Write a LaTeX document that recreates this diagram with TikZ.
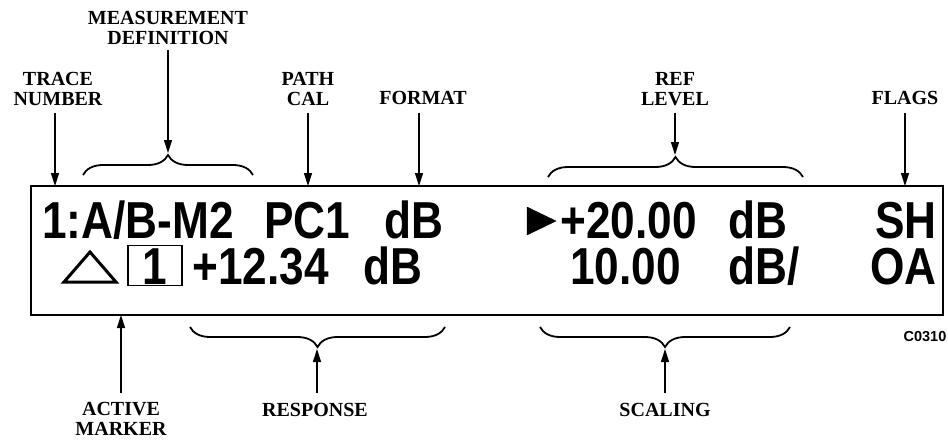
\documentclass[tikz,border=0pt]{standalone}
\usepackage{fontspec}
\setmainfont{Liberation Serif}
\newfontfamily\dispfont[FakeStretch=0.85]{Liberation Sans}
\newfontfamily\idfont{Liberation Sans}
\usetikzlibrary{arrows.meta,decorations.pathreplacing}
\tikzset{
  lbl/.style={font=\bfseries\fontsize{20}{20}\selectfont, align=center, inner sep=1pt},
  disp/.style={font=\dispfont\bfseries\fontsize{52}{52}\selectfont, inner sep=0pt, text height=37pt, text depth=0pt},
  arr/.style={line width=1.4pt, -{Triangle[length=13pt,width=8pt]}},
  brc/.style={line width=1.8pt, decorate, decoration={brace, amplitude=20pt, aspect=0.5}},
}
\begin{document}
\begin{tikzpicture}[x=1pt,y=-1pt]
\useasboundingbox (0,0) rectangle (948,440);
% display frame
\node[draw, line width=1.6pt, minimum width=912pt, minimum height=129pt, inner sep=0pt] (frame) at (487,250.5) {};
% row 1
\node[disp, anchor=base west] (tn) at (42,238) {1:A/B-M2};
\node[disp, anchor=base west] (pc) at (264,238) {PC1};
\node[disp, anchor=base west] (fm) at (384,238) {dB};
\draw[fill=black] (527,207) -- (556,221) -- (527,235) -- cycle;
\node[disp, anchor=base west] (rl) at (560,238) {+20.00};
\node[disp, anchor=base west] (rld) at (728,238) {dB};
\node[disp, anchor=base east] (sh) at (937,238) {SH};
% row 2
\draw[line width=3pt, line join=miter] (64,282) -- (116,282) -- (90,252) -- cycle;
\node[draw, line width=1.2pt, minimum width=54pt, minimum height=40pt, inner sep=0pt] (am) at (155,265.5) {};
\node[disp, anchor=base] (amt) at (155,284) {1};
\node[disp, anchor=base west] (rs) at (192,284) {+12.34};
\node[disp, anchor=base west] (rsd) at (363,284) {dB};
\node[disp, anchor=base west] (sc) at (570,284) {10.00};
\node[disp, anchor=base west] (scd) at (728,284) {dB/};
\node[disp, anchor=base east] (oa) at (937,284) {OA};
% figure id
\node[font=\idfont\bfseries\fontsize{14.5}{14.5}\selectfont, inner sep=0pt] (id) at (925,337) {C0310};
% labels
\node[lbl] (lmd) at (168,28) {MEASUREMENT\\DEFINITION};
\node[lbl] (ltn) at (58,89) {TRACE\\NUMBER};
\node[lbl] (lpc) at (308,89) {PATH\\CAL};
\node[lbl] (lfm) at (423,98) {FORMAT};
\node[lbl] (lrl) at (675,89) {REF\\LEVEL};
\node[lbl] (lfl) at (905,98) {FLAGS};
\node[lbl] (lam) at (121,419) {ACTIVE\\MARKER};
\node[lbl] (lrs) at (315,410) {RESPONSE};
\node[lbl] (lsc) at (665,410) {SCALING};
% connector ends
\coordinate (ctn) at (55,186);
\coordinate (cpc) at (308,186);
\coordinate (cfm) at (419,186);
\coordinate (cfl) at (905,186);
\coordinate (cam) at (121,315);
% braces
\draw[brc] (83,175) -- (253,175);
\coordinate (bmd) at (168,153);
\draw[brc] (548,177) -- (803,177);
\coordinate (brl) at (675,155);
\draw[brc] (445,327) -- (190,327);
\coordinate (brs) at (317,349);
\draw[brc] (790,327) -- (540,327);
\coordinate (bsc) at (665,349);
% arrows
\draw[arr] (55,113) -- (ctn);
\draw[arr] (308,113) -- (cpc);
\draw[arr] (419,113) -- (cfm);
\draw[arr] (905,113) -- (cfl);
\draw[arr] (168,50) -- (bmd);
\draw[arr] (675,113) -- (brl);
\draw[arr] (121,393) -- (cam);
\draw[arr] (317,393) -- (brs);
\draw[arr] (665,393) -- (bsc);
\end{tikzpicture}
\end{document}
